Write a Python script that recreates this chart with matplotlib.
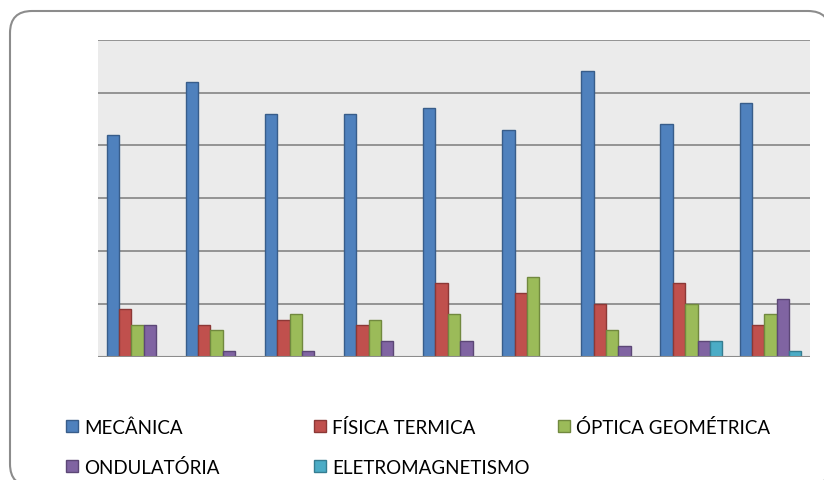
import numpy as np
import matplotlib.pyplot as plt
from matplotlib.patches import FancyBboxPatch, Rectangle
from matplotlib.transforms import IdentityTransform

# number of questions per topic in each exam
series = ["MECÂNICA", "FÍSICA TERMICA", "ÓPTICA GEOMÉTRICA", "ONDULATÓRIA", "ELETROMAGNETISMO"]
mecanica = [42, 52, 46, 46, 47, 43, 54, 44, 48]
fisica_termica = [9, 6, 7, 6, 14, 12, 10, 14, 6]
optica = [6, 5, 8, 7, 8, 15, 5, 10, 8]
ondulatoria = [6, 1, 1, 3, 3, 0, 2, 3, 11]
eletromag = [0, 0, 0, 0, 0, 0, 0, 3, 1]

colors = ["#4F81BD", "#C0504D", "#9BBB59", "#8064A2", "#4BACC6"]
edges = ["#385D8A", "#8C3836", "#71893F", "#5C4776", "#357D91"]

plt.rcParams['font.family'] = ['Lato', 'DejaVu Sans']

fig = plt.figure(figsize=(8.24, 4.81), dpi=100)
W, H = 824, 481

# rounded frame around the whole chart (pixel coords, origin bottom-left)
frame = FancyBboxPatch((10, -6), 820, H - 12 + 6,
                       boxstyle="round,pad=0,rounding_size=22",
                       transform=IdentityTransform(), facecolor="white",
                       edgecolor="#8C8C8C", linewidth=1.5, zorder=-1)
fig.patches.append(frame)

ax = fig.add_axes([98 / W, 1 - 357.7 / H, 712 / W, 317 / H])
ax.set_facecolor("#EBEBEB")

data = [mecanica, fisica_termica, optica, ondulatoria, eletromag]
n = len(mecanica)
x = np.arange(n) + 0.5
bw = 0.156
for j, vals in enumerate(data):
    ax.bar(x + (j - 2) * bw, vals, width=bw, color=colors[j],
           edgecolor=edges[j], linewidth=1.0, zorder=3)

ax.set_xlim(0, n)
ax.set_ylim(0, 60)
ax.set_yticks(range(0, 61, 10))
ax.yaxis.grid(True, color="#8C8C8C", linewidth=1.3, zorder=1)
ax.set_axisbelow(True)
ax.tick_params(left=False, bottom=False, labelleft=False, labelbottom=False)
for s in ax.spines.values():
    s.set_visible(False)
ax.axhline(0, color="#8C8C8C", linewidth=1.5, zorder=4)

# legend laid out in three columns below the plot
pos = [(66, 434), (314, 434), (558, 434), (66, 474), (314, 474)]
for (px, py), name, c, e in zip(pos, series, colors, edges):
    fig.patches.append(Rectangle((px / W, 1 - (py - 1) / H), 12 / W, 12 / H,
                                 transform=fig.transFigure, facecolor=c,
                                 edgecolor=e, linewidth=1.0))
    fig.text((px + 18) / W, 1 - py / H, name, fontsize=13.5, color="#000000",
             va="baseline", ha="left")

fig.savefig("out.png", dpi=100)
